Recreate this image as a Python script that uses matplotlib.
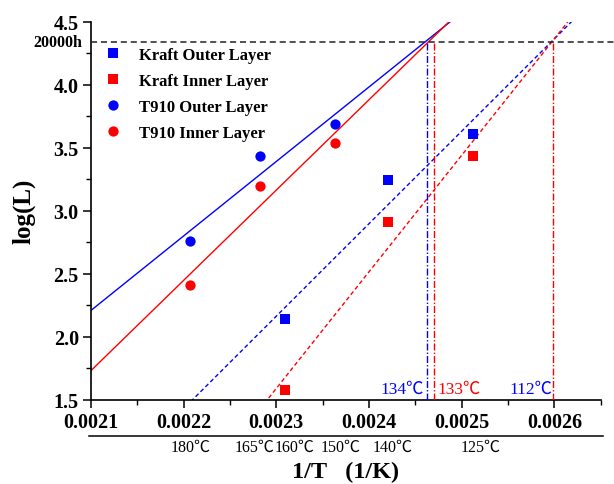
import numpy as np
import matplotlib
matplotlib.use('Agg')
import matplotlib.pyplot as plt
import matplotlib.transforms as mtransforms
from matplotlib.ticker import FixedLocator, FixedFormatter, MultipleLocator

# ---------------- data ----------------
kraft_x = [0.002309, 0.002420, 0.002512]
kraft_outer = [2.140, 3.241, 3.611]
kraft_inner = [1.579, 2.908, 3.437]

t910_x = [0.002207, 0.002282, 0.002363]
t910_outer = [2.762, 3.437, 3.690]
t910_inner = [2.413, 3.198, 3.537]

series_labels = ['Kraft Outer Layer', 'Kraft Inner Layer',
                 'T910 Outer Layer', 'T910 Inner Layer']

life_log = 4.34            # level of the 20000 h reference line as drawn
life_label = '20000h'

# crossing points of the fitted lines with the 20000 h level (as drawn);
# both Kraft lines cross at the same point
cross_x = [0.002463, 0.002470, 0.002599]
cross_colors = ['#0000FF', '#FF0000', '#FF0000']
cross_labels = ['134℃', '133℃', '112℃']

temp_x = [0.002207, 0.002277, 0.002320, 0.002369, 0.002425, 0.002520]
temp_labels = ['180℃', '165℃', '160℃', '150℃', '140℃', '125℃']

xticks = [0.0021, 0.0022, 0.0023, 0.0024, 0.0025, 0.0026]
xtick_labels = ['0.0021', '0.0022', '0.0023', '0.0024', '0.0025', '0.0026']
yticks = [1.5, 2.0, 2.5, 3.0, 3.5, 4.0, 4.5]
ytick_labels = ['1.5', '2.0', '2.5', '3.0', '3.5', '4.0', '4.5']
xlim = (0.0021, 0.00265)
ylim = (1.5, 4.5)

# ---------------- styling ----------------
plt.rcParams['font.family'] = ['Liberation Serif', 'Noto Sans CJK SC', 'DejaVu Sans']
BLUE = '#0000FF'
RED = '#FF0000'

fig = plt.figure(figsize=(6.14, 4.85), dpi=100)
fig.patch.set_facecolor('white')
ax = fig.add_axes([91 / 614, (485 - 400.7) / 485, 509.7 / 614, 378 / 485])

# fitted lines
xs = np.linspace(xlim[0], xlim[1], 400)
fits = [(t910_x, t910_outer, BLUE, '-'), (t910_x, t910_inner, RED, '-'),
        (kraft_x, kraft_outer, BLUE, '--'), (kraft_x, kraft_inner, RED, '--')]
for x, y, c, ls in fits:
    m, b = np.polyfit(x, y, 1)
    line, = ax.plot(xs, m * xs + b, color=c, lw=1.0, ls=ls, zorder=2)
    if ls == '--':
        line.set_dashes((3.0, 2.0))

# data points
ax.plot(kraft_x, kraft_outer, 's', color=BLUE, ms=6.6, mew=0, label=series_labels[0], zorder=4)
ax.plot(kraft_x, kraft_inner, 's', color=RED, ms=6.6, mew=0, label=series_labels[1], zorder=4)
ax.plot(t910_x, t910_outer, 'o', color=BLUE, ms=7.4, mew=0, label=series_labels[2], zorder=4)
ax.plot(t910_x, t910_inner, 'o', color=RED, ms=7.4, mew=0, label=series_labels[3], zorder=4)

# 20000 h reference line
ax.axhline(life_log, xmin=0, xmax=(614 - 91) / 509.7, color='#222222', lw=1.1,
           dashes=(4, 2.5), clip_on=False, zorder=3)

# vertical drop lines
for xv, c in zip(cross_x, cross_colors):
    ax.plot([xv, xv], [ylim[0], life_log], color=c, lw=1.0,
            dashes=(5, 1.5, 1, 1.5), zorder=3)

# crossing temperature labels
ax.annotate(cross_labels[0], xy=(cross_x[0], ylim[0]), xytext=(-2.5, 8.2),
            textcoords='offset points', ha='right', va='center',
            color=BLUE, fontsize=12.5)
ax.annotate(cross_labels[1], xy=(cross_x[1], ylim[0]), xytext=(2.5, 8.2),
            textcoords='offset points', ha='left', va='center',
            color=RED, fontsize=12.5)
ax.annotate(cross_labels[2], xy=(cross_x[2], ylim[0]), xytext=(-0.8, 8.2),
            textcoords='offset points', ha='right', va='center',
            color=BLUE, fontsize=12.5)

# axes
ax.set_xlim(*xlim)
ax.set_ylim(*ylim)
ax.spines['top'].set_visible(False)
ax.spines['right'].set_visible(False)
for s in ('left', 'bottom'):
    ax.spines[s].set_linewidth(1.2)

ax.xaxis.set_major_locator(FixedLocator(xticks))
ax.xaxis.set_major_formatter(FixedFormatter(xtick_labels))
ax.yaxis.set_major_locator(FixedLocator(yticks))
ax.yaxis.set_major_formatter(FixedFormatter(ytick_labels))
ax.xaxis.set_minor_locator(MultipleLocator(0.00005))
ax.yaxis.set_minor_locator(MultipleLocator(0.25))
ax.tick_params(which='major', direction='out', length=5.8, width=1.1,
               labelsize=14.5, pad=3)
ax.tick_params(which='minor', direction='out', length=3.5, width=1.0)
for lbl in ax.get_xticklabels() + ax.get_yticklabels():
    lbl.set_fontweight('bold')

# 20000h tick text
trans_y = mtransforms.blended_transform_factory(ax.transAxes, ax.transData)
ax.text(-0.018, life_log, life_label, transform=trans_y, ha='right', va='center',
        fontsize=11.5, fontweight='bold')

# secondary temperature scale
ax.plot([-0.004, 1.004], [-0.0952, -0.0952], transform=ax.transAxes,
        color='black', lw=1.1, clip_on=False)
trans_x = mtransforms.blended_transform_factory(ax.transData, ax.transAxes)
for xv, t in zip(temp_x, temp_labels):
    ax.text(xv, -0.1233, t, transform=trans_x, ha='center', va='center',
            fontsize=11.5)

# axis labels
ax.set_xlabel('1/T   (1/K)', fontsize=17.5, fontweight='bold')
ax.xaxis.set_label_coords(0.5, -0.2035)
ax.xaxis.label.set_verticalalignment('baseline')
ax.set_ylabel('log(L)', fontsize=18, fontweight='bold')
ax.yaxis.set_label_coords(-0.132, 0.5)
ax.yaxis.label.set_verticalalignment('center')

# legend
ax.legend(loc='upper left', bbox_to_anchor=(0.006, 0.950), frameon=False,
          prop={'weight': 'bold', 'size': 12}, handlelength=1.5,
          handletextpad=0.8, labelspacing=0.6, borderaxespad=0,
          borderpad=0.4, numpoints=1)

fig.savefig('out.png', dpi=100)
